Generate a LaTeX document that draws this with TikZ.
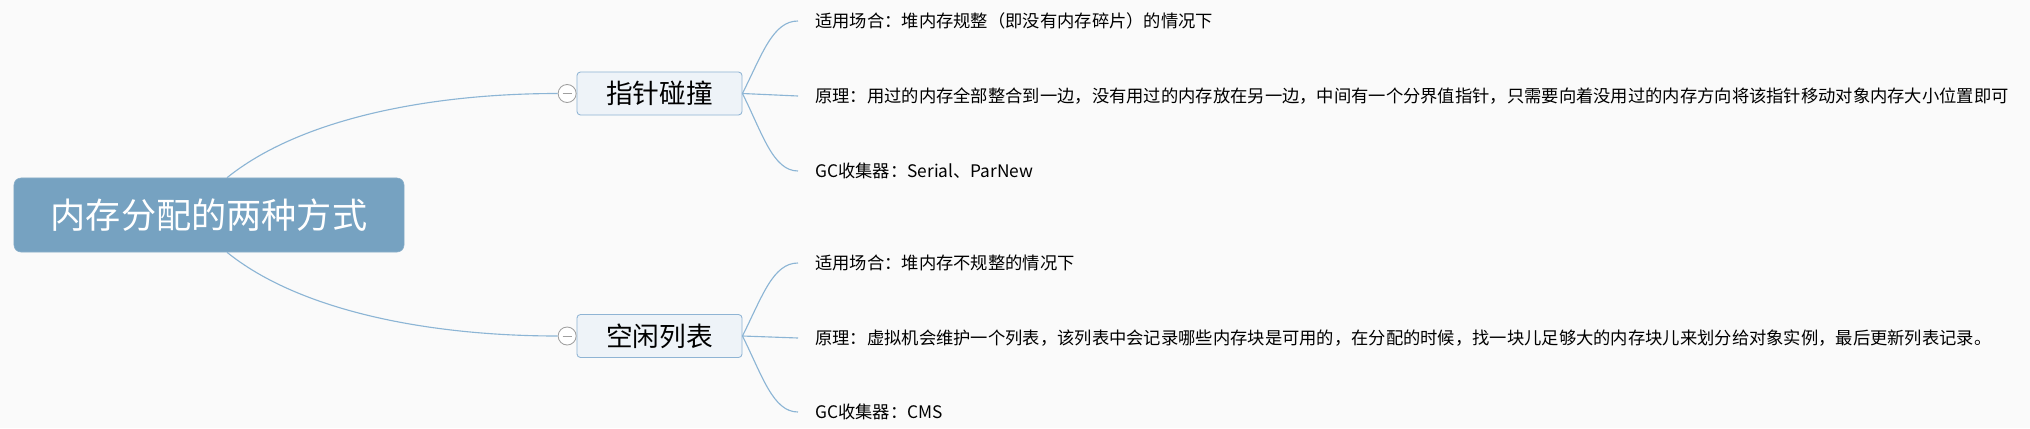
\documentclass[tikz,border=0pt]{standalone}
\usepackage{fontspec}
\setmainfont{Noto Sans CJK SC}
\usetikzlibrary{positioning}
\definecolor{rootblue}{HTML}{76A2C1}
\definecolor{boxline}{HTML}{8FB4D4}
\definecolor{boxfill}{HTML}{EEF3F8}
\definecolor{linkblue}{HTML}{8CB5D5}
\definecolor{paper}{HTML}{FAFAFA}

\begin{document}
\begin{tikzpicture}[
  x=0.025cm, y=-0.025cm,
  root/.style={fill=rootblue, draw=rootblue!85!white, rounded corners=5pt, text=white, minimum width=9.75cm, minimum height=1.85cm, font=\fontsize{25}{30}\selectfont},
  way/.style={draw=boxline, fill=boxfill, line width=0.6pt, rounded corners=2.5pt, minimum width=4.125cm, minimum height=1.075cm, font=\fontsize{19}{23}\selectfont},
  fold/.style={circle, draw=gray!75, fill=white, line width=0.6pt, minimum size=0.45cm, inner sep=0pt,
    path picture={\draw[gray!75, line width=0.6pt] ([xshift=-0.11cm]path picture bounding box.center) -- ([xshift=0.11cm]path picture bounding box.center);}},
  leaf/.style={anchor=west, inner xsep=0.425cm, inner ysep=0pt, font=\fontsize{12.3}{15}\selectfont},
  link/.style={draw=linkblue, line width=0.8pt}
]
\fill[paper] (0,0) rectangle (2030,428);
\useasboundingbox (0,0) rectangle (2030,428);

\node[root] (root) at (209,215) {内存分配的两种方式};

\node[way] (pointer) at (659.5,93.5) {指针碰撞};
\node[way] (freelist) at (659.5,336) {空闲列表};
\node[fold, left=0pt of pointer] (fold1) {};
\node[fold, left=0pt of freelist] (fold2) {};

% 指针碰撞
\node[leaf] (p1) at (798,21) {适用场合：堆内存规整（即没有内存碎片）的情况下};
\node[leaf] (p2) at (798,96) {原理：用过的内存全部整合到一边，没有用过的内存放在另一边，中间有一个分界值指针，只需要向着没用过的内存方向将该指针移动对象内存大小位置即可};
\node[leaf] (p3) at (798,171) {GC收集器：Serial、ParNew};

% 空闲列表
\node[leaf] (f1) at (798,263) {适用场合：堆内存不规整的情况下};
\node[leaf] (f2) at (798,338) {原理：虚拟机会维护一个列表，该列表中会记录哪些内存块是可用的，在分配的时候，找一块儿足够大的内存块儿来划分给对象实例，最后更新列表记录。};
\node[leaf] (f3) at (798,412) {GC收集器：CMS};

\draw[link] ([xshift=0.45cm]root.north) .. controls +(73,-59) and +(-128,0) .. (fold1.west);
\draw[link] ([xshift=0.45cm]root.south) .. controls +(73,59) and +(-128,0) .. (fold2.west);

\draw[link] (pointer.east) .. controls +(20,-40) and +(-25,0) .. (p1.west);
\draw[link] (pointer.east) -- (p2.west);
\draw[link] (pointer.east) .. controls +(20,40) and +(-25,0) .. (p3.west);
\draw[link] (freelist.east) .. controls +(20,-40) and +(-25,0) .. (f1.west);
\draw[link] (freelist.east) -- (f2.west);
\draw[link] (freelist.east) .. controls +(20,40) and +(-25,0) .. (f3.west);
\end{tikzpicture}
\end{document}
